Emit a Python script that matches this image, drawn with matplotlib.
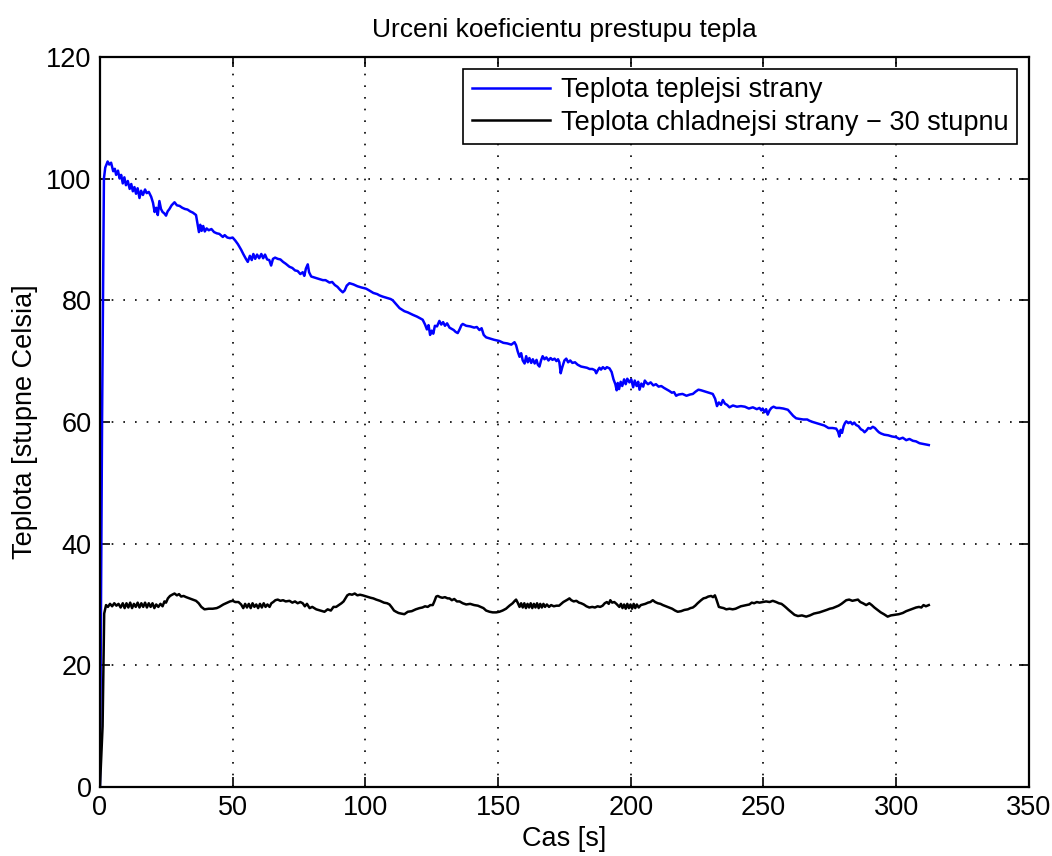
import matplotlib
matplotlib.use("Agg")
import matplotlib.pyplot as plt

plt.rcParams['font.family'] = ['Liberation Sans', 'DejaVu Sans']

# teplejsi strana: cas [s] a teplota
t_hot = [0, 0.8, 1.5, 2.0, 2.9, 3.5, 4.2, 5.0, 5.6, 6.1,
         6.8, 7.4, 8.0, 8.6, 9.2, 9.8, 10.5, 11.2, 11.8, 12.4,
         13.0, 13.6, 14.2, 14.9, 15.5, 16.2, 17.0, 17.6, 18.4, 19.3,
         20.0, 20.6, 21.2, 21.8, 22.4, 23.0, 23.6, 24.2, 24.9, 25.5,
         26.2, 27.0, 28.1, 29.0, 30.0, 31.0, 32.0, 33.0, 34.0, 35.0,
         36.2, 36.8, 37.3, 37.8, 38.3, 38.9, 39.5, 40.2, 41.0, 42.0,
         43.0, 44.0, 45.0, 46.3, 47.0, 48.0, 49.0, 50.0, 51.0, 52.0,
         53.2, 54.0, 55.0, 55.7, 56.5, 57.2, 57.8, 58.5, 59.2, 60.0,
         60.8, 61.5, 62.2, 63.0, 63.8, 64.5, 65.2, 66.0, 67.0, 68.0,
         69.0, 70.0, 71.4, 72.5, 73.5, 74.5, 75.5, 76.4, 77.0, 77.6,
         78.3, 78.8, 79.6, 81.0, 82.5, 84.0, 85.0, 86.5, 87.5, 88.5,
         89.5, 90.5, 91.5, 92.2, 93.0, 94.0, 95.5, 97.0, 98.5, 100.3,
         101.5, 103.0, 104.5, 105.3, 106.5, 108.0, 109.5, 110.3, 111.5, 112.9,
         114.7, 116.0, 117.9, 119.5, 121.6, 122.5, 123.2, 123.8, 124.4, 125.0,
         125.6, 126.2, 127.0, 127.9, 128.6, 129.3, 130.0, 130.8, 131.7, 132.5,
         133.3, 134.0, 134.8, 135.5, 136.2, 136.7, 138.0, 139.5, 141.0, 142.0,
         143.0, 143.8, 144.6, 145.5, 147.0, 148.5, 150.5, 152.0, 153.5, 155.0,
         156.2, 156.8, 157.4, 158.1, 158.7, 159.3, 160.0, 160.6, 161.2, 161.8,
         162.5, 163.1, 163.8, 164.5, 165.0, 165.6, 166.2, 166.8, 167.5, 168.2,
         169.0, 169.8, 170.5, 171.3, 172.0, 172.6, 173.1, 173.6, 174.2, 175.0,
         175.7, 176.4, 177.2, 178.0, 179.0, 180.0, 181.3, 182.5, 183.5, 184.5,
         185.5, 186.5, 187.0, 187.6, 188.2, 188.8, 189.5, 190.3, 191.0, 192.0,
         192.8, 193.5, 194.2, 194.7, 195.1, 195.6, 196.2, 196.8, 197.5, 198.1,
         198.7, 199.5, 200.2, 200.9, 201.5, 202.2, 202.8, 203.3, 204.0, 204.7,
         205.3, 205.8, 206.5, 207.5, 208.5, 209.5, 210.5, 211.5, 212.5, 213.3,
         214.5, 215.5, 216.3, 217.1, 218.0, 219.5, 221.0, 222.3, 223.4, 224.5,
         225.5, 226.5, 228.0, 229.5, 230.9, 231.8, 232.5, 233.2, 234.0, 234.7,
         235.5, 236.3, 237.2, 238.5, 240.0, 241.5, 243.0, 244.5, 246.0, 247.5,
         248.5, 249.2, 249.7, 250.4, 251.0, 251.6, 252.3, 253.0, 253.8, 254.8,
         256.0, 257.5, 259.2, 260.2, 261.2, 262.3, 263.5, 265.0, 266.5, 267.3,
         268.5, 270.0, 271.5, 273.0, 274.5, 276.0, 277.4, 278.1, 278.6, 279.1,
         279.6, 280.2, 280.7, 281.2, 282.0, 282.8, 283.5, 284.2, 284.9, 285.8,
         286.7, 287.5, 288.1, 288.8, 289.5, 290.3, 291.2, 292.0, 292.8, 293.5,
         294.3, 295.5, 297.0, 298.5, 300.0, 301.2, 302.5, 303.8, 305.0, 306.3,
         307.5, 308.8, 310.0, 311.0, 312.3]
y_hot = [0, 60, 100, 101.8, 102.8, 102.3, 102.6, 101.2, 101.6, 100.6,
         101.3, 100.0, 100.6, 99.2, 100.2, 98.9, 99.6, 98.3, 99.1, 97.9,
         98.6, 97.5, 98.4, 96.8, 98.0, 97.3, 98.2, 97.6, 97.8, 97.0,
         96.0, 94.5, 95.2, 94.0, 96.3, 95.0, 94.5, 94.3, 93.9, 94.6,
         95.0, 95.6, 96.1, 95.6, 95.5, 95.2, 95.0, 94.9, 94.6, 94.4,
         94.0, 92.5, 91.2, 92.4, 91.4, 92.2, 91.3, 91.8, 91.5, 91.7,
         91.2, 91.0, 90.9, 90.4, 90.7, 90.3, 90.2, 90.3, 89.8, 89.2,
         88.3, 87.6, 86.8, 86.3, 87.3, 86.6, 87.6, 86.8, 87.5, 86.9,
         87.6, 86.9, 87.5, 86.7, 86.6, 85.7, 86.8, 87.0, 86.8, 86.7,
         86.3, 86.0, 85.5, 85.3, 84.9, 84.8, 84.3, 84.6, 84.0, 85.2,
         85.9, 84.6, 83.9, 83.7, 83.5, 83.3, 83.3, 82.9, 83.0, 82.5,
         82.2, 81.7, 81.3, 81.6, 82.4, 82.8, 82.6, 82.3, 82.1, 81.9,
         81.6, 81.2, 81.0, 80.8, 80.6, 80.4, 80.2, 80.0, 79.4, 78.7,
         78.2, 78.0, 77.6, 77.3, 76.8, 76.0, 75.2, 75.9, 74.3, 75.0,
         74.5, 75.8, 75.7, 76.6, 76.0, 76.4, 75.8, 76.2, 75.5, 75.3,
         75.1, 74.8, 74.6, 75.2, 75.9, 76.1, 75.8, 75.7, 75.5, 75.6,
         75.1, 75.4, 74.3, 73.9, 73.7, 73.5, 73.3, 73.0, 72.9, 72.7,
         73.1, 72.6, 71.6, 70.7, 71.3, 70.1, 69.6, 70.8, 69.8, 70.5,
         69.7, 70.3, 69.6, 70.2, 69.4, 69.1, 70.1, 70.8, 70.3, 70.6,
         70.1, 70.5, 70.2, 70.4, 70.0, 70.3, 69.8, 68.0, 69.0, 70.1,
         70.4, 69.8, 70.1, 69.7, 69.8, 69.4, 69.1, 69.0, 68.9, 68.7,
         68.7, 68.5, 68.0, 68.5, 68.9, 68.6, 69.0, 68.7, 69.0, 68.8,
         68.2, 67.0, 66.2, 65.2, 66.4, 65.4, 66.6, 65.9, 67.0, 66.2,
         67.1, 66.5, 67.0, 65.7, 66.8, 65.9, 66.6, 65.3, 66.3, 65.8,
         66.8, 66.5, 66.2, 66.5, 66.0, 66.2, 65.8, 65.9, 65.6, 65.4,
         65.1, 64.8, 64.9, 64.3, 64.5, 64.6, 64.3, 64.5, 64.6, 65.0,
         65.3, 65.2, 65.0, 64.8, 64.6, 63.8, 62.6, 63.2, 62.8, 63.6,
         63.0, 62.8, 62.4, 62.7, 62.5, 62.6, 62.5, 62.2, 62.4, 62.1,
         62.3, 61.9, 62.2, 61.6, 62.1, 61.2, 61.9, 62.3, 62.5, 62.3,
         62.3, 62.2, 62.0, 61.5, 61.0, 60.6, 60.5, 60.4, 60.4, 60.2,
         60.0, 59.8, 59.6, 59.4, 59.0, 59.0, 58.9, 58.4, 57.6, 58.7,
         58.2, 59.3, 59.8, 60.1, 59.8, 60.0, 59.6, 59.9, 59.5, 59.3,
         58.8, 58.6, 58.3, 58.6, 59.0, 58.9, 59.2, 59.0, 58.6, 58.3,
         58.1, 57.9, 57.8, 57.6, 57.5, 57.2, 57.4, 57.0, 57.2, 56.9,
         56.8, 56.5, 56.4, 56.3, 56.2]

# chladnejsi strana - 30 stupnu
t_cold = [0, 1.0, 1.6, 2.3, 3.0, 3.8, 4.6, 5.4, 6.2, 7.0,
          7.8, 8.6, 9.3, 10.0, 10.7, 11.4, 12.1, 12.8, 13.5, 14.2,
          14.9, 15.6, 16.3, 17.0, 17.7, 18.4, 19.1, 19.8, 20.5, 21.2,
          22.0, 22.8, 23.6, 24.3, 24.9, 25.6, 26.4, 27.2, 28.1, 29.0,
          29.8, 30.6, 31.5, 32.5, 33.7, 35.0, 36.2, 37.2, 38.2, 39.4,
          41.0, 42.5, 44.0, 45.0, 46.5, 48.0, 49.0, 50.0, 51.0, 52.2,
          53.2, 54.0, 54.7, 55.4, 56.1, 56.8, 57.5, 58.2, 58.9, 59.6,
          60.3, 61.0, 61.7, 62.4, 63.1, 63.9, 64.6, 65.3, 66.1, 67.0,
          68.0, 69.0, 70.0, 71.4, 72.5, 73.5, 74.5, 75.5, 76.4, 77.2,
          78.0, 79.0, 80.0, 81.5, 83.0, 84.6, 85.8, 87.0, 88.0, 89.0,
          90.0, 91.0, 91.8, 92.5, 93.2, 94.0, 95.0, 96.0, 97.0, 98.0,
          99.0, 100.5, 102.0, 103.0, 104.1, 105.5, 107.0, 108.2, 109.1, 110.0,
          110.8, 111.6, 112.5, 113.5, 114.7, 116.0, 117.5, 119.0, 120.4, 121.5,
          122.5, 123.5, 124.5, 125.4, 126.0, 126.7, 127.3, 128.2, 129.0, 130.0,
          131.0, 131.7, 132.6, 133.5, 134.5, 135.5, 136.7, 138.0, 139.5, 141.0,
          142.4, 143.5, 144.5, 145.5, 146.8, 148.0, 149.3, 150.5, 151.7, 153.0,
          154.3, 155.5, 156.3, 156.8, 157.4, 158.1, 158.7, 159.3, 159.9, 160.5,
          161.1, 161.7, 162.3, 162.9, 163.5, 164.1, 164.7, 165.3, 165.9, 166.5,
          167.1, 167.7, 168.4, 169.2, 170.0, 171.0, 172.0, 173.0, 173.8, 174.6,
          175.4, 176.2, 176.9, 177.6, 178.5, 179.5, 180.5, 181.3, 182.3, 183.3,
          184.4, 185.5, 186.5, 187.5, 188.5, 189.4, 190.2, 191.0, 191.7, 192.3,
          193.0, 193.8, 194.6, 195.7, 196.3, 196.9, 197.5, 198.1, 198.7, 199.3,
          199.9, 200.5, 201.1, 201.7, 202.3, 203.0, 203.8, 204.6, 205.5, 206.5,
          207.4, 208.3, 209.2, 210.2, 211.2, 212.1, 213.3, 214.5, 215.6, 216.7,
          217.7, 219.0, 220.2, 221.5, 222.5, 223.4, 224.3, 225.2, 226.0, 226.5,
          227.4, 228.3, 229.2, 230.3, 231.0, 231.7, 232.3, 233.2, 234.0, 235.0,
          236.0, 237.2, 238.4, 239.5, 240.5, 241.5, 242.5, 243.6, 244.7, 245.6,
          246.5, 247.5, 248.5, 249.7, 251.0, 252.3, 253.5, 254.8, 255.8, 256.8,
          257.7, 258.5, 259.5, 260.6, 261.7, 263.0, 264.5, 266.1, 267.5, 269.0,
          270.1, 271.1, 272.5, 273.8, 275.0, 276.1, 277.2, 278.3, 279.4, 280.3,
          281.2, 282.3, 283.5, 284.6, 285.6, 286.5, 287.5, 288.7, 289.5, 289.9,
          290.8, 291.8, 293.0, 294.2, 295.4, 296.8, 298.0, 299.5, 301.0, 302.5,
          303.8, 305.0, 306.3, 307.5, 308.6, 309.5, 310.3, 311.2, 312.3]
y_cold = [0, 10, 28.5, 29.9, 29.6, 30.1, 29.7, 30.2, 29.8, 30.1,
          29.5, 30.2, 29.4, 30.2, 29.5, 30.3, 29.4, 30.1, 29.6, 30.3,
          29.5, 30.2, 29.6, 30.3, 29.5, 30.2, 29.6, 30.2, 29.4, 30.0,
          29.6, 30.1, 29.7, 30.5, 30.3, 31.0, 31.4, 31.6, 31.8, 31.5,
          31.7, 31.3, 31.4, 31.2, 31.0, 30.8, 30.6, 30.2, 29.6, 29.2,
          29.3, 29.3, 29.4, 29.6, 30.0, 30.3, 30.5, 30.6, 30.4, 30.4,
          30.0, 29.4, 30.1, 29.5, 30.1, 29.4, 30.2, 29.6, 30.0, 29.4,
          30.1, 29.5, 30.2, 29.6, 30.0, 29.6, 30.2, 30.4, 30.7, 30.8,
          30.6, 30.7, 30.5, 30.6, 30.3, 30.5, 30.2, 30.4, 30.2, 29.7,
          30.1, 29.4, 29.6, 29.2, 29.0, 28.8, 29.2, 29.0, 29.6, 29.6,
          29.9, 30.2, 30.5, 31.0, 31.5, 31.7, 31.6, 31.8, 31.5, 31.6,
          31.5, 31.3, 31.1, 31.0, 30.8, 30.6, 30.3, 30.2, 30.0, 29.5,
          29.0, 28.8, 28.6, 28.5, 28.4, 28.8, 28.9, 29.2, 29.4, 29.5,
          29.7, 29.6, 29.9, 29.9, 30.5, 31.3, 31.4, 31.2, 31.1, 31.2,
          31.0, 31.0, 30.7, 30.9, 30.5, 30.5, 30.2, 30.0, 30.1, 29.9,
          29.8, 29.6, 29.4, 29.0, 28.8, 28.7, 28.7, 28.8, 29.0, 29.3,
          29.8, 30.2, 30.6, 30.8, 30.3, 29.6, 30.2, 29.5, 30.2, 29.4,
          30.1, 29.5, 30.2, 29.4, 30.1, 29.5, 30.2, 29.4, 30.1, 29.5,
          30.1, 29.6, 30.0, 29.6, 29.9, 29.7, 29.8, 29.8, 30.1, 30.4,
          30.6, 30.8, 31.0, 30.7, 30.5, 30.6, 30.3, 30.2, 30.0, 29.7,
          29.5, 29.6, 29.5, 29.7, 29.6, 29.8, 30.2, 30.4, 30.1, 30.7,
          30.3, 30.4, 30.1, 29.6, 30.1, 29.4, 30.0, 29.3, 30.1, 29.4,
          30.0, 29.3, 30.1, 29.4, 30.0, 29.5, 29.9, 30.0, 30.1, 30.3,
          30.4, 30.7, 30.4, 30.2, 30.1, 29.9, 29.7, 29.5, 29.3, 29.0,
          28.8, 28.9, 29.1, 29.2, 29.4, 29.5, 29.8, 30.2, 30.5, 30.7,
          31.0, 31.1, 31.3, 31.4, 31.2, 31.5, 30.8, 29.6, 29.5, 29.4,
          29.2, 29.3, 29.2, 29.3, 29.5, 29.7, 29.8, 29.9, 30.0, 30.3,
          30.2, 30.4, 30.3, 30.4, 30.5, 30.4, 30.6, 30.4, 30.2, 30.1,
          29.8, 29.5, 29.1, 28.7, 28.3, 28.1, 28.2, 28.0, 28.2, 28.5,
          28.6, 28.7, 28.9, 29.1, 29.3, 29.4, 29.6, 29.8, 30.1, 30.4,
          30.7, 30.8, 30.6, 30.7, 30.8, 30.4, 30.2, 29.9, 30.1, 30.2,
          29.9, 29.5, 29.1, 28.7, 28.4, 28.0, 28.2, 28.3, 28.4, 28.6,
          28.9, 29.1, 29.3, 29.5, 29.6, 29.5, 29.9, 29.7, 29.9]

x_ticks = [0, 50, 100, 150, 200, 250, 300, 350]
y_ticks = [0, 20, 40, 60, 80, 100, 120]

fig = plt.figure(figsize=(10.52, 8.56), dpi=100)
ax = fig.add_axes([0.095, 0.0806, 0.883, 0.853])

ax.plot(t_hot, y_hot, color='#0000ff', lw=1.8, label='Teplota teplejsi strany')
ax.plot(t_cold, y_cold, color='black', lw=1.8, label='Teplota chladnejsi strany \u2212 30 stupnu')

ax.set_xlim(0, 350)
ax.set_ylim(0, 120)
ax.set_xticks(x_ticks)
ax.set_yticks(y_ticks)
ax.tick_params(direction='in', top=True, right=True, length=7, width=1.2, labelsize=19.5, pad=6)
ax.grid(True, linestyle=(0, (1, 6)), color='black', linewidth=1.2)
for s in ax.spines.values():
    s.set_linewidth(1.6)

ax.set_title('Urceni koeficientu prestupu tepla', fontsize=19, pad=14)
ax.set_xlabel('Cas [s]', fontsize=19.5, labelpad=3)
ax.set_ylabel('Teplota [stupne Celsia]', fontsize=19.5, labelpad=6)

leg = ax.legend(loc='upper right', fontsize=19.5, fancybox=False, framealpha=1,
                edgecolor='black', handlelength=2.9, borderpad=0.3, labelspacing=0.25,
                borderaxespad=0.45, handletextpad=0.4)
leg.get_frame().set_linewidth(1.2)

fig.savefig('out.png', dpi=100)
